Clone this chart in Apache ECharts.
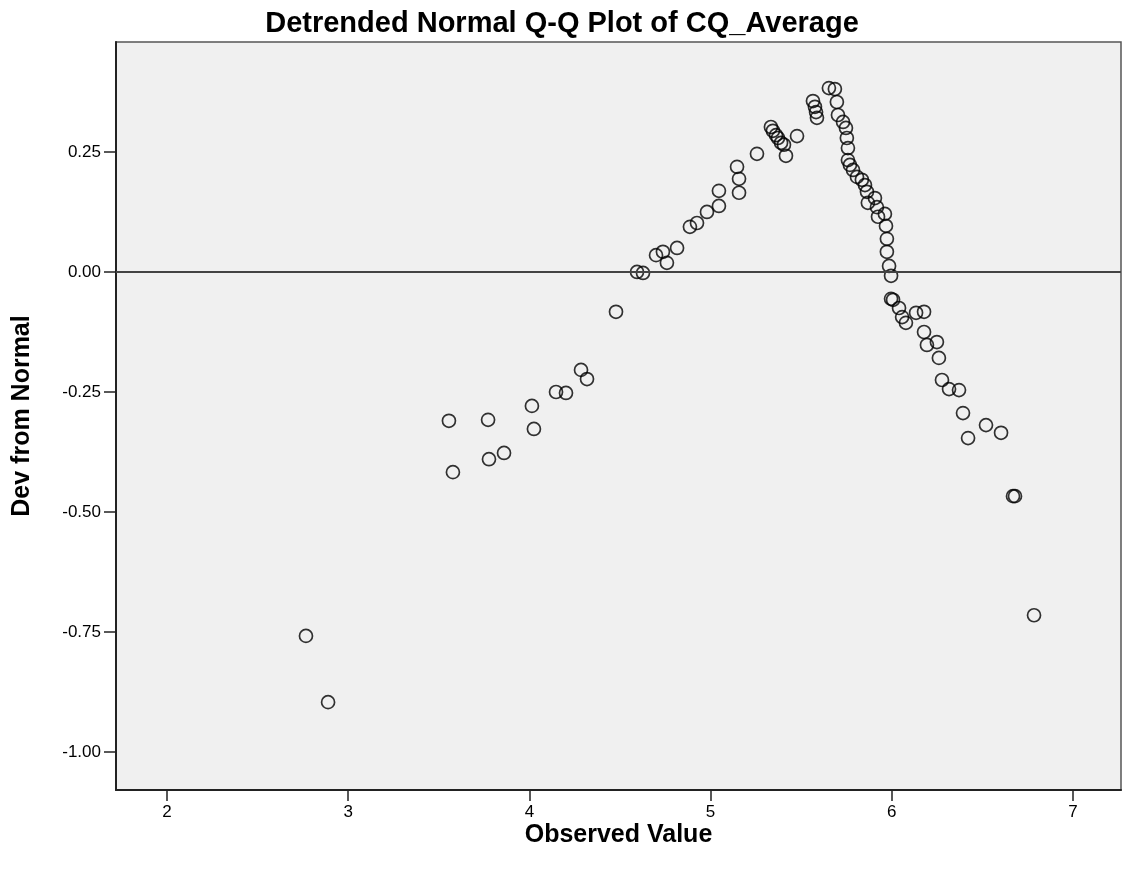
<!DOCTYPE html>
<html>
<head>
<meta charset="utf-8">
<script src="https://cdn.jsdelivr.net/npm/echarts@6/dist/echarts.min.js"></script>
<style>
html,body{margin:0;padding:0;background:#fff;}
#chart{width:1126px;height:873px;}
</style>
</head>
<body>
<div id="chart"></div>
<script>
const titleText = 'Detrended Normal Q-Q Plot of CQ_Average';
const xAxisTitle = 'Observed Value';
const yAxisTitle = 'Dev from Normal';
const xTicks = [2, 3, 4, 5, 6, 7];
const yTicks = [-1.00, -0.75, -0.50, -0.25, 0.00, 0.25];
const observed = [2.767,2.889,3.556,3.578,3.772,3.777,3.860,4.014,4.025,4.147,4.202,4.285,4.318,4.478,4.594,4.627,4.699,4.737,4.759,4.815,4.886,4.925,4.980,5.046,5.046,5.146,5.157,5.157,5.256,5.333,5.344,5.361,5.372,5.389,5.405,5.416,5.477,5.565,5.576,5.582,5.587,5.653,5.686,5.697,5.703,5.731,5.747,5.752,5.758,5.758,5.769,5.786,5.808,5.835,5.852,5.863,5.868,5.907,5.918,5.924,5.962,5.968,5.973,5.973,5.985,5.996,5.996,6.007,6.040,6.057,6.078,6.134,6.178,6.178,6.194,6.249,6.260,6.277,6.316,6.371,6.393,6.421,6.520,6.603,6.669,6.680,6.785];
const deviation = [-0.758,-0.896,-0.310,-0.417,-0.308,-0.390,-0.377,-0.279,-0.327,-0.250,-0.252,-0.204,-0.223,-0.083,0.000,-0.002,0.035,0.042,0.019,0.050,0.094,0.102,0.125,0.1375,0.169,0.219,0.194,0.165,0.246,0.302,0.294,0.285,0.279,0.269,0.265,0.242,0.283,0.356,0.344,0.333,0.321,0.383,0.381,0.354,0.327,0.3125,0.300,0.279,0.258,0.233,0.223,0.2125,0.198,0.192,0.181,0.167,0.144,0.154,0.135,0.115,0.121,0.096,0.069,0.042,0.0125,-0.008,-0.056,-0.058,-0.075,-0.094,-0.106,-0.085,-0.083,-0.125,-0.152,-0.146,-0.179,-0.225,-0.244,-0.246,-0.294,-0.346,-0.319,-0.335,-0.467,-0.467,-0.715];
const referenceLevel = 0;

const points = observed.map((x, i) => [x, deviation[i]]);
const chart = echarts.init(document.getElementById('chart'));
const font = 'Arial, "Liberation Sans", sans-serif';
chart.setOption({
  animation: false,
  backgroundColor: '#ffffff',
  title: {
    text: titleText,
    left: 557, top: 4, textAlign: 'center',
    textStyle: {fontFamily: font, fontSize: 29, fontWeight: 'bold', color: '#000'}
  },
  grid: {
    left: 116, right: 5, top: 42, bottom: 83,
    show: true, backgroundColor: '#F0F0F0', borderColor: '#555', borderWidth: 1.5
  },
  xAxis: {
    type: 'value', min: 1.7186, max: 7.265,
    name: xAxisTitle, nameLocation: 'middle', nameGap: 33, nameMoveOverlap: false,
    nameTextStyle: {fontFamily: font, fontSize: 25, fontWeight: 'bold', color: '#000', verticalAlign: 'top'},
    axisLine: {show: true, onZero: false, lineStyle: {color: '#222', width: 2}},
    axisTick: {show: true, length: 11, lineStyle: {color: '#222', width: 1.5}, customValues: xTicks},
    axisLabel: {fontFamily: font, fontSize: 17, color: '#000', margin: 14, customValues: xTicks, formatter: v => String(Math.round(v))},
    splitLine: {show: false}
  },
  yAxis: {
    type: 'value', min: -1.079, max: 0.479,
    name: yAxisTitle, nameLocation: 'middle', nameGap: 81, nameRotate: 90,
    nameTextStyle: {fontFamily: font, fontSize: 25, fontWeight: 'bold', color: '#000'},
    axisLine: {show: true, onZero: false, lineStyle: {color: '#222', width: 2}},
    axisTick: {show: true, length: 12, lineStyle: {color: '#222', width: 1.5}, customValues: yTicks},
    axisLabel: {fontFamily: font, fontSize: 17, color: '#000', margin: 15, customValues: yTicks, formatter: v => v.toFixed(2)},
    splitLine: {show: false}
  },
  series: [{
    type: 'scatter',
    data: points,
    symbol: 'circle',
    symbolSize: 13,
    itemStyle: {color: 'rgba(0,0,0,0)', borderColor: '#000', borderWidth: 1.7},
    markLine: {
      silent: true, symbol: 'none', label: {show: false},
      lineStyle: {color: '#444', width: 2, type: 'solid'},
      data: [{yAxis: referenceLevel}]
    },
    z: 3
  }]
});
</script>
</body>
</html>
